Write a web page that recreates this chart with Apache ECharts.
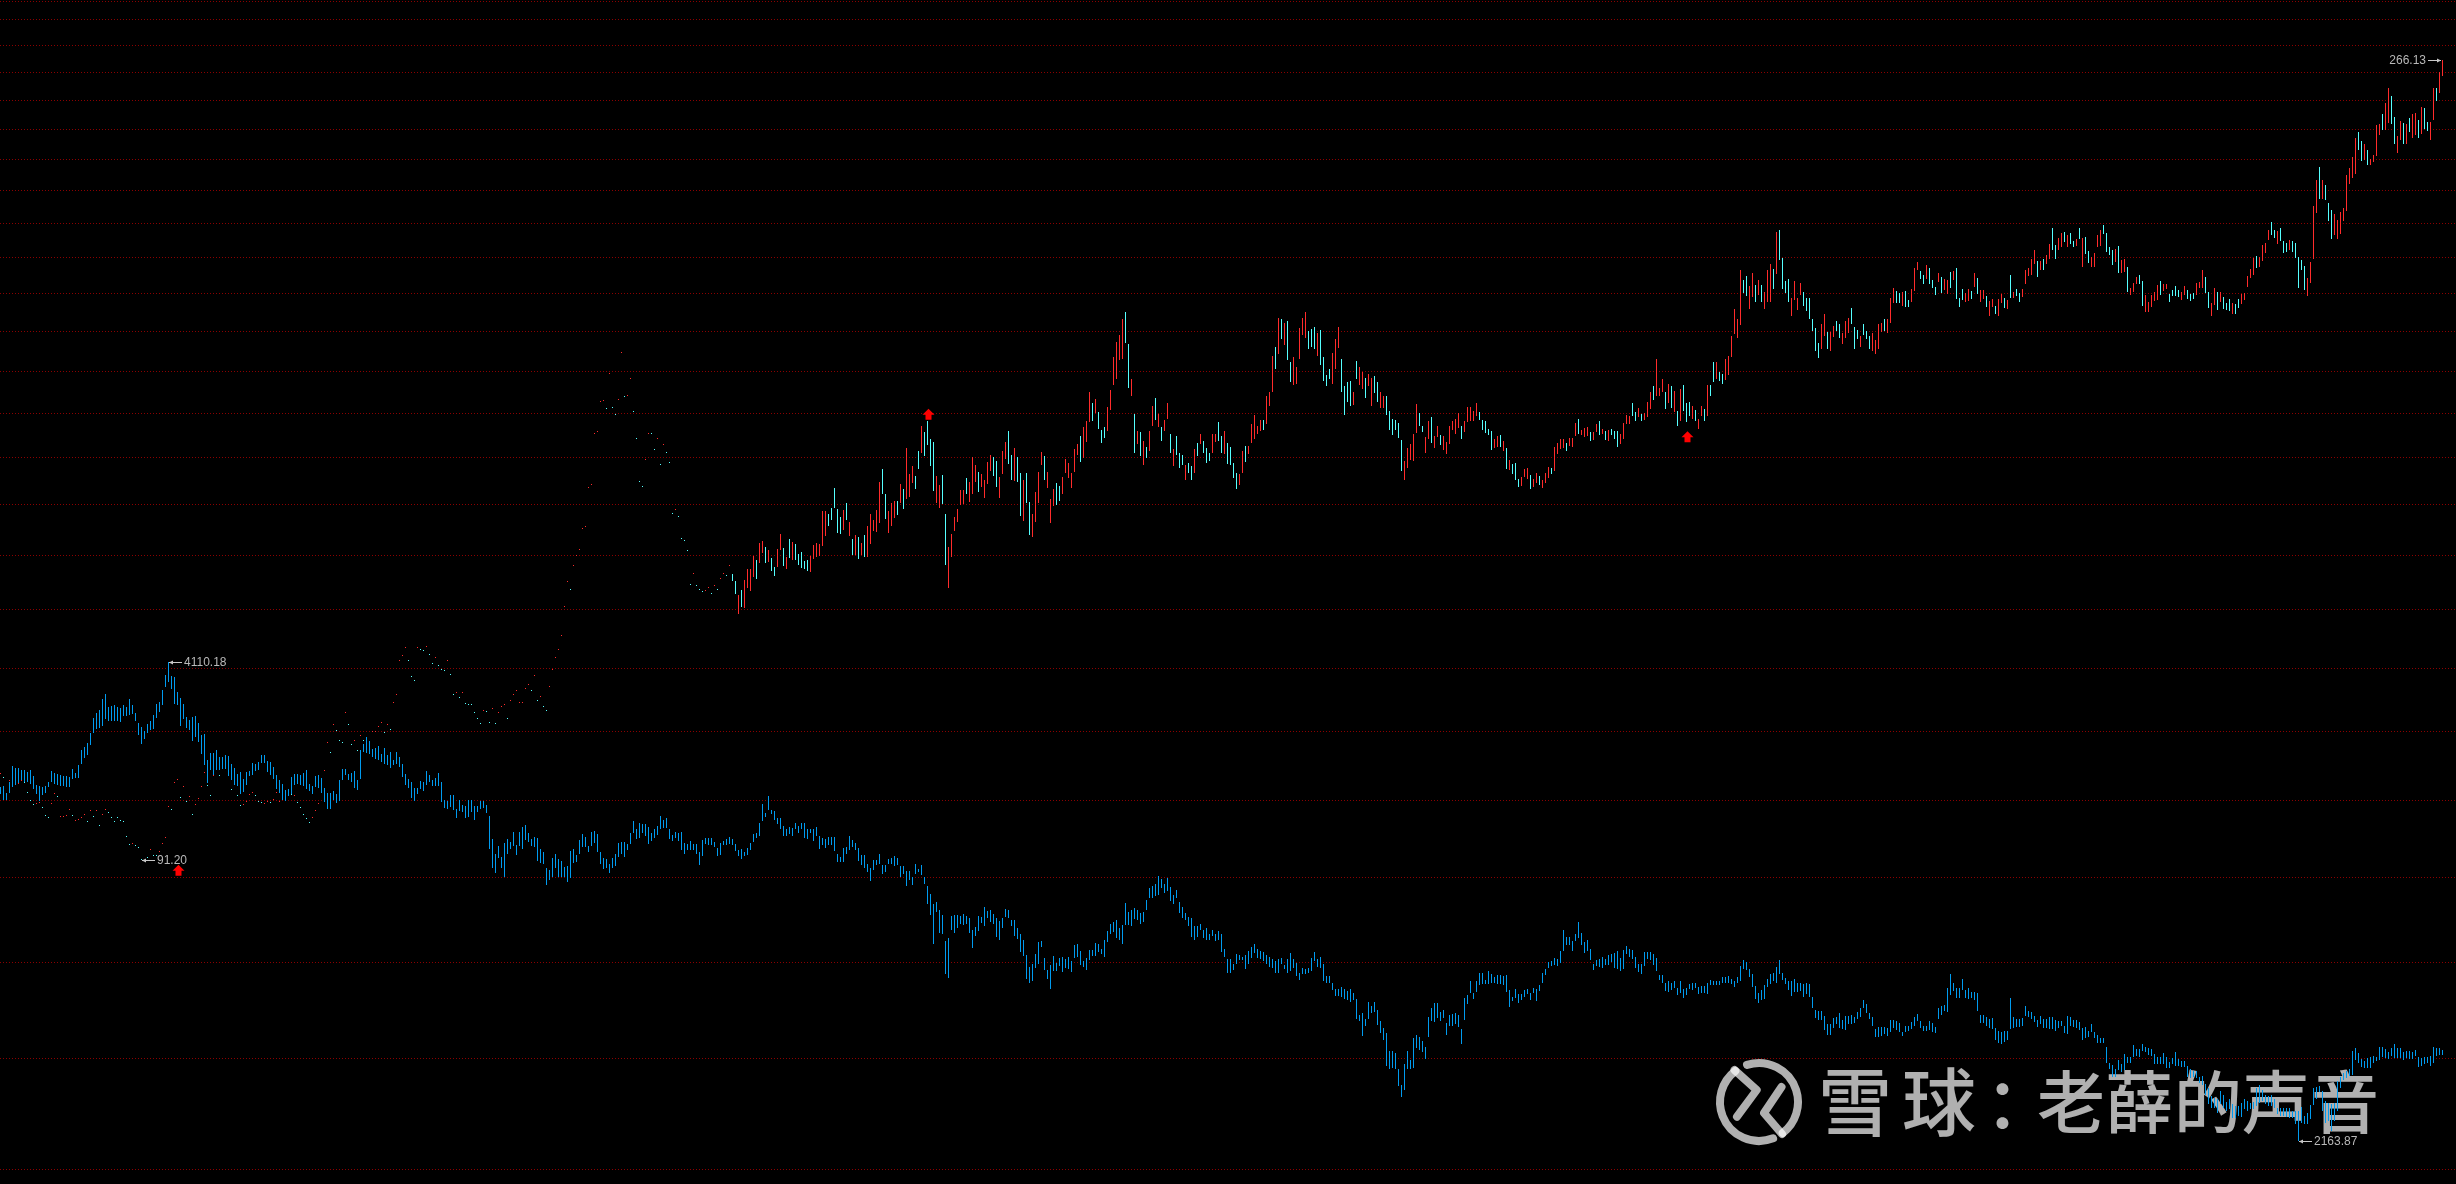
<!DOCTYPE html>
<html>
<head>
<meta charset="utf-8">
<style>html,body{margin:0;padding:0;background:#000;overflow:hidden}#c{width:2456px;height:1184px}</style>
<script src="https://cdn.jsdelivr.net/npm/echarts@6/dist/echarts.min.js"></script>
</head>
<body>
<div id="c"></div>
<script>
// Index (blue, left-hand scale): high,low pairs per session
const blueHighLow = [
3476,3443,3483,3419,3451,3419,3500,3448,3578,3479,3568,3488,3565,3496,3556,3508,3556,3500,3548,3500,
3556,3491,3528,3467,3487,3443,3483,3411,3479,3440,3483,3448,3503,3479,3552,3500,3544,3491,3540,3488,
3532,3483,3528,3480,3528,3479,3522,3479,3560,3516,3544,3519,3583,3520,3655,3588,3668,3615,3689,3631,
3740,3679,3814,3737,3840,3757,3857,3766,3913,3774,3939,3809,3873,3800,3875,3800,3882,3800,3870,3800,
3864,3795,3882,3823,3870,3826,3913,3830,3882,3835,3840,3800,3788,3727,3771,3684,3748,3708,3783,3740,
3800,3754,3830,3757,3887,3814,3899,3847,3959,3882,4042,3977,4110.18,4003,4034,3965,4029,3887,3947,3882,
3916,3774,3887,3809,3818,3766,3804,3754,3818,3700,3826,3716,3788,3692,3727,3636,3735,3580,3604,3496,
3639,3556,3639,3532,3655,3559,3620,3556,3620,3560,3631,3564,3626,3528,3585,3508,3568,3488,3540,3483,
3548,3443,3516,3455,3548,3488,3551,3528,3593,3532,3586,3552,3596,3556,3631,3593,3631,3593,3600,3548,
3596,3535,3572,3516,3532,3467,3511,3451,3491,3419,3464,3411,3467,3435,3524,3443,3540,3488,3540,3491,
3536,3488,3544,3483,3559,3467,3491,3459,3483,3443,3528,3479,3532,3475,3519,3451,3475,3407,3451,3375,
3451,3378,3459,3419,3443,3404,3511,3411,3564,3508,3560,3532,3540,3508,3544,3500,3552,3475,3508,3464,
3655,3516,3684,3644,3716,3641,3700,3636,3660,3620,3663,3612,3676,3604,3636,3596,3663,3588,3628,3580,
3644,3568,3604,3580,3644,3585,3620,3572,3588,3524,3540,3488,3516,3475,3500,3427,3475,3414,3475,3443,
3504,3467,3500,3459,3554,3487,3532,3500,3511,3483,3519,3483,3544,3480,3500,3407,3419,3382,3411,3375,
3439,3387,3439,3372,3378,3336,3419,3368,3393,3361,3390,3336,3419,3339,3419,3361,3390,3328,3390,3361,
3411,3375,3411,3382,3393,3358,3343,3200,3244,3120,3178,3098,3212,3164,3168,3120,3227,3084,3244,3178,
3229,3200,3273,3212,3218,3174,3273,3215,3295,3200,3305,3237,3270,3232,3244,3215,3251,3208,3247,3149,
3200,3142,3189,3135,3120,3049,3113,3071,3164,3084,3178,3120,3157,3084,3149,3084,3125,3084,3128,3060,
3190,3077,3200,3142,3174,3145,3237,3178,3266,3208,3251,3208,3215,3186,3273,3215,3280,3227,3266,3186,
3186,3135,3164,3116,3157,3120,3135,3101,3160,3120,3178,3130,3227,3168,
3230,3179,3230,3168,3223,3197,3271,3223,3323,3271,3289,3242,3315,3249,3311,3271,3311,3257,3296,3220,
3271,3233,3289,3249,3301,3263,3345,3289,3326,3292,3337,3293,3289,3245,3263,3233,3274,3248,3271,3233,
3274,3194,3228,3179,3223,3197,3235,3197,3223,3194,3223,3179,3187,3132,3241,3172,3249,3223,3249,3219,
3249,3219,3230,3211,3206,3172,3228,3175,3235,3219,3245,3216,3252,3223,3245,3219,3223,3190,3197,3172,
3201,3157,3187,3169,3204,3175,3226,3197,3267,3230,3271,3248,3315,3255,3399,3321,3359,3340,3434,3372,
3372,3352,3366,3328,3337,3311,3337,3286,3301,3255,3285,3257,3296,3267,3293,3255,3315,3286,3301,3271,
3315,3289,3315,3249,3285,3245,3289,3271,3289,3233,3296,3255,3257,3201,3249,3219,3245,3206,3252,3219,
3252,3219,3252,3190,3179,3143,3165,3143,3206,3146,3211,3179,3257,3194,3241,3209,3228,3194,3206,3150,
3175,3132,3175,3121,3135,3102,3121,3064,3153,3113,3153,3132,3179,3135,3132,3096,3132,3102,3157,3135,
3162,3135,3169,3128,3162,3132,3128,3081,3128,3096,3109,3045,3109,3070,3083,3051,3135,3096,3116,3102,
3131,3091,3084,3055,3047,2971,3012,2929,2974,2816,2980,2941,2950,2861,2929,2857,2830,2707,2842,2693,
2926,2870,2931,2861,2929,2877,2926,2894,2935,2890,2926,2894,2919,2861,2873,2803,2881,2847,2925,2868,
2923,2900,2962,2886,2945,2916,2950,2903,2935,2896,2916,2845,2905,2834,2919,2877,2954,2922,2950,2916,
2908,2886,2908,2848,2877,2836,2857,2789,2834,2774,2776,2690,2732,2673,2742,2681,2780,2730,2827,2745,
2830,2808,2765,2721,2721,2688,2739,2653,2772,2719,2748,2719,2765,2736,2768,2715,2761,2728,2768,2725,
2753,2715,2815,2765,2819,2771,2792,2739,2753,2732,2765,2722,2796,2757,2796,2772,2823,2772,2819,2788,
2799,2780,2834,2768,2869,2827,2896,2857,2904,2865,2908,2842,2877,2834,2892,2816,2978,2890,2943,2892,
2950,2886,2958,2913,2950,2909,2939,2896,2943,2904,2989,2950,3039,2997,3047,2997,3055,3005,3087,3009,
3074,3036,3055,3016,3078,3024,3043,2985,3009,2974,3028,2997,2981,2939,2962,2919,2939,2908,2923,2888,
2919,2846,2888,2834,2885,2846,2896,2873,2873,2842,2877,2834,2854,2834,2873,2850,2854,2830,2869,2834,
2857,2788,2799,2768,2761,2711,2761,2711,2745,2721,2780,2742,2776,2757,
2771,2757,2776,2724,2790,2742,2806,2765,2819,2783,2799,2767,2793,2761,2787,2754,2776,2742,2771,2734,
2761,2730,2754,2711,2761,2711,2767,2742,2738,2724,2761,2711,2784,2719,2761,2730,2748,2701,2709,2684,
2730,2707,2724,2707,2728,2711,2767,2719,2787,2754,2761,2734,2771,2730,2742,2682,2699,2676,2699,2673,
2676,2650,2652,2629,2653,2627,2659,2623,2652,2617,2647,2613,2652,2606,2638,2613,2617,2548,2563,2543,
2569,2490,2548,2525,2607,2548,2592,2569,2607,2572,2578,2528,2540,2500,2517,2479,2500,2392,2440,2382,
2440,2387,2434,2384,2384,2331,2334,2297,2399,2316,2441,2382,2411,2384,2485,2387,2496,2451,2489,2445,
2475,2439,2455,2417,2555,2489,2586,2540,2603,2537,2603,2552,2572,2540,2579,2552,2534,2496,2563,2526,
2565,2523,2569,2531,2561,2520,2513,2465,2621,2545,2632,2600,2683,2638,2638,2617,2683,2641,2711,2667,
2711,2669,2686,2669,2718,2669,2707,2676,2697,2673,2704,2669,2704,2669,2700,2667,2704,2644,2648,2590,
2624,2609,2652,2621,2635,2603,2635,2614,2648,2624,2652,2635,2638,2614,2655,2638,2652,2610,2666,2645,
2711,2676,2724,2704,2750,2730,2753,2736,2765,2738,2761,2736,2792,2748,2873,2792,2846,2815,2846,2815,
2830,2792,2854,2830,2904,2842,2861,2815,2827,2784,2834,2792,2799,2757,2745,2721,2757,2735,2761,2731,
2768,2728,2761,2738,2776,2738,2780,2749,2784,2728,2792,2724,2765,2718,2796,2724,2811,2780,2799,2768,
2796,2761,2768,2728,2742,2714,2742,2707,2788,2735,2788,2761,2788,2757,2780,2738,2765,2718,2704,2686,
2704,2673,2676,2645,2680,2641,2673,2648,2680,2655,2655,2631,2680,2638,2652,2621,2655,2631,2669,2652,
2676,2648,2673,2655,2659,2635,2662,2638,2662,2638,2673,2635,2686,2666,2680,2666,2683,2666,2680,2666,
2697,2673,2697,2676,2700,2676,2690,2669,2680,2659,2697,2676,2735,2683,2757,2724,2749,2721,2724,2697,
2707,2659,2662,2617,2638,2603,2648,2614,2666,2617,2690,2659,2707,2669,2711,2680,2731,2676,2757,2707,
2711,2686,2693,2669,2683,2648,2683,2628,2690,2641,2676,2641,2673,2645,2669,2624,2676,2635,2669,2624,
2624,2586,2579,2552,2576,2545,2576,2545,2558,2510,2531,2493,2531,2493,2552,2517,2555,2531,2569,2517,
2545,2513,2558,2510,2558,2531,2562,2531,2555,2534,2572,2548,
2586,2555,2615,2586,2600,2569,2569,2550,2555,2526,2514,2488,2521,2488,2521,2492,2521,2498,2517,2492,
2546,2506,2546,2517,2543,2512,2535,2503,2506,2491,2526,2503,2526,2508,2538,2515,2555,2526,2566,2540,
2543,2517,2526,2509,2526,2509,2543,2512,2535,2506,2521,2500,2586,2548,2592,2563,2598,2575,2658,2573,
2707,2633,2675,2646,2658,2621,2658,2621,2688,2650,2650,2621,2656,2618,2644,2621,2641,2615,2638,2577,
2563,2535,2561,2535,2555,2526,2550,2517,2552,2514,2517,2479,2508,2468,2506,2465,2509,2471,2509,2477,
2621,2514,2555,2517,2550,2520,2548,2520,2552,2526,2592,2558,2577,2554,2573,2550,2558,2538,2546,2521,
2558,2531,2550,2517,2550,2517,2555,2515,2555,2514,2546,2509,2543,2517,2543,2523,2526,2500,2558,2497,
2555,2526,2546,2521,2546,2517,2538,2512,2517,2479,2521,2483,2508,2488,2531,2506,2506,2483,2494,2468,
2486,2468,2486,2468,2454,2402,2404,2382,2396,2359,2384,2359,2411,2379,2399,2374,2431,2379,2423,2404,
2423,2404,2462,2422,2448,2425,2448,2422,2465,2442,2456,2437,2451,2427,2448,2425,2431,2399,2422,2399,
2423,2399,2434,2399,2423,2386,2406,2386,2419,2399,2437,2394,2416,2394,2409,2389,2409,2389,2392,2359,
2382,2354,2377,2357,2377,2354,2359,2339,2362,2334,2336,2303,2323,2273,2298,2263,2293,2263,2288,2248,
2313,2273,2303,2263,2281,2253,2288,2258,2273,2233,2268,2233,2268,2238,2278,2235,2288,2258,2283,2253,
2278,2258,2281,2258,2323,2268,2334,2278,2318,2283,2303,2273,2298,2268,2303,2268,2288,2263,2263,2243,
2263,2238,2261,2238,2261,2235,2261,2233,2253,2233,2253,2215,2253,2163.87,2265,2218,2238,2213,2248,2215,
2271,2228,2323,2271,2328,2288,2331,2311,2313,2253,2283,2218,2278,2223,2273,2193,2278,2223,2344,2253,
2359,2323,2369,2349,2376,2356,2384,2362,2442,2364,2450,2412,2434,2402,2414,2389,2409,2386,2419,2386,
2423,2386,2425,2404,2423,2409,2454,2412,2454,2423,2448,2419,2437,2416,2450,2425,2465,2419,2450,2419,
2450,2419,2437,2412,2442,2419,2442,2414,2437,2416,2445,2425,2423,2391,2419,2394,2423,2399,2423,2402,
2425,2394,2454,2404,2450,2425,2451,2427,2445,2427
];

// Stock (right-hand scale): start,end pairs per session.
// end > start is drawn red, end < start is drawn cyan. null = nothing visible that session.
const redStartEnd = [
102.3,102.4,101.8,101.7,null,null,101.4,101.5,null,null,100.9,101,101,101.1,101.3,101.4,101.2,101.1,99.9,99.8,
98.8,98.7,98.2,98.1,98.3,98.4,98.4,98.5,97.8,97.7,96.8,96.7,96.6,96.5,98.3,98.4,99.6,99.7,99.3,99.2,
96.6,96.7,96.6,96.7,96.7,96.8,97.5,97.6,96.8,96.7,96.1,96.2,96.2,96.3,96.4,96.5,96.8,96.9,96.1,96,
97.4,97.5,96.7,96.6,97.4,97.5,95.5,95.4,96.8,96.9,97.5,97.6,97.2,97.1,96.6,96.5,96.1,96,96.5,96.4,
96.2,96.1,96.1,96,94.1,94,93.1,93,93.2,93.3,93,92.9,92.7,92.6,91.3,91.2,null,null,91.5,91.4,
92.4,92.5,91.8,91.7,91.8,91.7,92.1,92.2,93.2,93.3,93.9,94,97.9,98,97.6,97.5,101.1,101.2,101.5,101.6,
99.2,99.1,100.5,100.6,98.6,98.5,99.2,99.3,97,96.9,98.2,98.3,99,99.1,100.5,100.6,102.4,102.5,100.8,100.7,
99.5,99.4,102,102.1,103,103.1,102.2,102.1,null,null,null,null,102.6,102.5,100.3,100.2,null,null,99.4,99.3,
98.1,98,98.2,98.3,98.5,98.6,99.5,99.6,99.8,99.9,99.4,99.3,98.7,98.6,98.5,98.4,98.3,98.4,98.5,98.6,
98.5,98.4,98.8,98.9,99.7,99.8,98.6,98.7,98.9,99,99.5,99.4,100.2,100.3,99.6,99.5,99.4,99.5,98.5,98.4,
97.9,97.8,97,96.9,96.4,96.3,95.9,95.8,96.5,96.6,97.4,97.5,98.3,98.4,null,null,102.7,102.8,106.6,106.7,
105.3,105.2,109.2,109.3,108.5,108.4,107.1,107,106.8,106.7,111.1,111.2,109.4,109.3,106.4,106.3,106.9,107,105.6,105.5,
107.7,107.8,107,106.9,null,null,null,null,108.3,108.4,108.3,108.4,108.9,109,109.6,109.7,108.2,108.1,109.2,109.3,
108.6,108.5,112.6,112.7,113.8,113.9,119,119.1,119.8,119.9,121.1,121.2,119.1,119,116.7,116.6,116,115.9,121.1,121.2,
120.9,120.8,120.7,120.6,121.3,121.4,120.1,120,118.6,118.5,119.5,119.6,118.3,118.2,117.8,117.7,117.6,117.5,119,119.1,
116.9,116.8,113.9,113.8,114.1,114.2,113.4,113.3,114,114.1,112.5,112.4,112.4,112.3,112.4,112.3,111.2,111.1,110.3,110.2,
109.5,109.4,111.4,111.5,111.3,111.2,109.7,109.6,111.7,111.8,109.5,109.4,111,111.1,112,112.1,112.3,112.4,110.3,110.2,
112.9,113,113.8,113.9,114.4,114.5,112.5,112.6,112.5,112.6,114.6,114.7,115.3,115.4,114.5,114.4,116.7,116.8,113,112.9,
113.4,113.5,112.1,112,111.5,111.4,115,115.1,117.7,117.8,119.5,119.6,120.8,120.9,123.1,123.2,128,128.1,132.4,132.5,
131,130.9,135.3,135.4,137,137.1,138.2,138.3,142.1,142.2,142.5,142.6,150.1,150.2,150.7,150.8,161.4,161.5,161.8,161.9,
168.4,168.5,168.6,168.7,166.9,166.8,174.8,174.9,167.1,167,165.7,165.6,168.8,168.9,180,180.1,169.6,169.5,169.9,170,
173.8,173.9,166.4,166.3,160.3,160.2,151.4,151.3,150.4,150.3,155.8,155.9,161.4,161.5,161.5,161.4,158.1,158,160.3,160.4,
154.9,154.8,159,159.1,157.4,157.3,155.3,155.2,145,144.9,145.7,145.8,144.5,144.4,140.3,140.2,140,139.9,138.1,138,
132,131.9,133.7,133.8,131.8,131.7,131.1,131,130.7,130.6,130.8,130.9,131.2,131.3,130.4,130.3,131.7,131.8,131.1,131,
132.8,132.9,133.8,133.9,133.6,133.5,135.3,135.4,
133.7,132.5,132.5,130.2,126.7,130,130.9,128,127.7,132.7,131.2,134.6,130.7,134.6,133.2,136.9,136.2,132.8,135.7,139.4,
137.5,139.8,138.6,135.7,135.9,138.1,136.6,134.3,135,133.4,135,138.3,138.1,141.1,138.4,135.2,134.6,136.7,140.1,136.6,
136.2,139.6,139.2,136.2,137.3,135.3,137.7,134.8,136,134.6,136.2,134.3,134.1,136.9,136.4,139,136.8,139.4,136.9,139.2,
138.8,145.4,140.7,145.4,144.8,142.6,146.1,143.7,150,146.1,145.8,141.3,144.3,141.1,141.8,145.6,147.1,143.7,140.7,143.3,
140.1,137.1,137.1,140.9,140.5,136.4,137.1,139.4,140.9,136.8,136.8,142.6,139.2,144.8,141.6,143.7,141.4,145.6,143.1,151.2,
153.9,148.8,148.8,143.9,141.3,145.4,142.6,147.1,144.1,147.5,147.5,144.7,147.1,150.8,149.8,145.8,147.9,158.2,148.3,152.8,
151,154.5,152.4,149.9,157.6,153.9,157.2,163,161.7,156.5,164,158.9,160.2,154.5,159.5,149.4,147.1,152.4,146,150.6,
152.6,146.9,144.8,135.3,131.2,138.6,136.8,141.1,141.6,144.3,143.3,145.8,146.7,149.6,146.9,149.6,152,148.8,147.3,151.2,
148.9,156.3,151.2,154.7,153.2,149.2,150.2,152.8,148.1,151.6,150.8,155.3,153.5,156.8,156.3,152.4,155.5,150.2,148.1,152.2,
152.8,157.6,155.9,159.5,161.9,154.9,156.8,151.6,151.4,158.2,156.3,151.2,153,144.5,143.5,151.6,153,147.1,147.3,140.9,
140.5,144.8,143.3,149.2,147.1,153.2,154.7,157.4,156.5,151.6,150,153.2,143.1,147.9,146.5,149.8,151,146.7,150.4,147.5,
148.9,152.2,153,155.9,152,155.1,150,153,153.2,158,156.8,159.1,160.8,155.3,156.1,162.7,159.5,164,163.8,170.5,
168.2,164.2,165.9,169.1,166.2,162.3,162.1,159.3,162.7,160.4,161.9,167.1,166.6,171,
172.1,178.9,173.7,182.5,178,184.2,178.4,188,189.8,182.2,182,171.6,169.8,173.7,165.7,157.2,159.1,161.9,161.7,156.5,
154.7,159.7,158.5,156.1,157.6,161.9,162.9,167.5,169.3,164.4,162.7,165.7,162.7,159.7,161.9,164.4,164.6,168,161.2,157.2,
154.5,158,160.8,156.9,157.2,154,156.8,154.7,151.6,154.7,155.1,153,154.5,151.6,153,158,159.3,156.5,159.1,161.2,
159.7,157.2,158.2,155.1,157.2,155.5,157.2,161.2,159.5,161.2,163.8,159.7,160.8,157.2,157,161.9,159.3,154.9,158.5,154.7,
155.1,152,153,149.8,150.6,152.8,153,157.6,158.7,155.3,157,158.7,159.3,163.4,160.2,165.5,161.2,163.1,161.9,164.4,
164.4,162.1,163.4,169.6,167.5,170.7,170.5,179.1,181.3,176,179.6,188.5,188.2,183.2,181.8,187.2,187.7,178,177.5,172.8,
172.1,178.7,172.5,176.5,178.2,185.9,184.2,188.5,183.4,190,185.1,180.8,185.6,181.3,186.2,180.8,179.1,184.6,185.4,177,
178.7,173.2,174.6,171.9,176,173.5,172.5,179.8,176,183.2,181,186.2,178.2,170.5,171.9,165.5,172.8,168.4,173.2,167.5,
167.7,170.7,177.9,173.5,172.3,176.5,171.2,175.3,173.9,169.3,171.9,174.8,167.5,173.9,174.4,170.3,172.8,168.4,167,170.7,
167,169.6,169.8,165.5,166.4,162.1,164.6,161,164.4,162.1,163.6,160.4,159.9,153.5,151.6,155.5,154,158.2,155.7,159.1,
155.5,161.2,161.4,167.8,165.9,163.1,163.1,161.7,157.2,160.6,160.2,164.2,164.9,159.3,158.2,160.8,160.6,162.9,161,158.9,
157.8,160.8,157,159.5,159.1,162.9,162.1,164.2,161.2,164.6,162.5,165.9,162.9,160.2,161.7,164.2,163.8,167.1,164.2,167.1,
164.2,166.4,165.1,168,166.2,164.4,164.4,162.1,164,161.4,162.3,161,161.9,157.8,158.2,160.2,158.5,160.8,161,158.5,
157.6,159.7,158.2,153.9,153.7,155.7,154.9,152.8,155.1,151.6,151.8,150.2,150.4,152.2,152.2,153.9,151.8,154,152.6,149.8,
150.2,151.8,151,153,152.4,150.6,150,151.6,151,153,152,154.3,154,152.8,153.5,158.4,157,159.3,158,160.2,
158.2,160.2,159.3,157.6,158.7,160.4,158.5,160.4,160.8,163.6,164.6,161.2,161,162.1,160.6,162.5,160.8,162.7,161.7,159.7,
159.9,161.7,161.7,163.4,164,161,161.2,162.3,161.9,159.9,159.7,162.1,162.3,161,161.9,160.2,161.9,158.5,
159.1,161.2,160.2,163.6,163.4,165.5,163.4,165.3,168.2,165.1,166.1,164,164.9,167,165.7,164,164.4,165.9,164.9,168.4,
166.8,170.7,171.9,168.7,169.8,178.4,169.6,171.6,170.5,173.5,170.7,166.8,168,172.5,171.9,167,166.1,170.9,166.4,162.9,
164,171.2,172.1,166.4,168.2,163.8,168.4,165.3,164.6,167.5,166.6,164.2,162.3,164.6,165.1,167.5,166.8,164,165.3,172.1,
172.1,169.6,177.7,172.8,173.5,177.7,175.3,173.2,174.8,172.5,173.4,178.2,174.6,179.1,178.9,183.9,184.4,190.6,183.4,188,
186.7,200.9,198.2,194.7,199.3,194,190.6,196.6,193.7,200,196.9,192.4,194.2,198.2,196.9,192.4,190.6,195,192.4,200.9,
192.4,202.5,201.1,195.8,199.8,211.5,212,203.5,204.1,195.8,197.9,194.7,198.5,192.4,188.8,193.4,192.9,197.9,190.3,193.4,
194.2,197.4,195,191.3,193.4,190.1,193.4,188,188,185.1,185.9,180.3,182.2,178.6,180.8,186.9,183.9,189.3,184.9,180.6,
180.3,184.9,183.7,186.4,187.5,185.1,186.9,183.4,182,184.6,183.4,187.7,184.6,188.5,190.8,186.9,186.2,180.8,185.4,183.2,
181.3,183.9,186.9,184.2,185.1,183.2,183.9,180.6,180.3,184.6,179.6,183,180.8,186.9,184.9,187.2,188,185.1,184.6,188,
187.2,193.4,192.1,196.1,195.3,192.1,194.7,192.1,191.3,195,195.3,191.1,192.9,191.1,192.4,195.8,195.3,201.4,200.9,203,
200.6,198.5,199.5,197.1,198.5,202.1,201.4,197.1,198.2,196.1,196.3,194.2,197.7,200,199,194.7,195.5,198.5,194.5,198.2,
200.3,196.1,198.2,200.6,201.4,193.2,193.4,191.1,195.8,192.9,192.4,194.7,192.7,195.8,195.3,193.2,196.3,200,198.7,194.5,
192.4,195.5,193.2,195.5,193.9,191.1,189,192.7,191.1,193.2,191.4,189.3,188.8,193.2,192.1,194.5,193.4,190.8,190.6,192.9,
199.5,193.4,193.4,195,195.8,194,194.7,192.4,193.7,195.8,197.1,200.9,199.3,201.4,199.5,203.8,202.4,206.3,203.3,199,
200.9,203.3,203.8,200.9,202.4,204.9,203.8,207.9,212.6,206.3,207.6,203.8,206.3,209.8,207.1,211.2,211.5,208.5,207.1,210.4,
211.2,207.9,208.7,207.1,207.4,209.3,212.6,209.3,201.7,209.8,210.1,205.2,206,202.7,201.7,204.3,201.7,205.4,207.1,210.4,
207.4,212,213.4,210.7,211.2,205.7,207.1,204.9,206.3,202.2,203,206.5,207.4,200,200,203.5,200.3,203.8,201.7,195,
194.2,196.1,195,197.4,197.1,199,199.5,197.1,197.9,191.4,189.8,194.2,189.8,192.4,191.1,194.2,192.7,195,192.9,196.9,
197.9,194.2,195.3,197.1,195.8,197.1,194.5,192.4,195.5,194,196.6,194,195.5,193.7,192.9,195,194.2,196.6,195.5,193.2,
194.5,192.7,194.7,193.2,194.2,197.4,196.1,197.7,196.1,200.9,199,194.7,195,190.8,189,192.1,191.6,196.1,195,190.3,
192.4,195,193.7,190.6,192.1,190.3,193.2,190.1,189.3,192.1,191.9,189.5,193.2,190.8,192,194.6,
193.1,194.9,196.3,199.2,198.7,201.1,199.5,204.1,204.6,201.4,201.7,204.3,203.3,207.7,205.5,208.2,209,212,214.2,210.4,
211.8,209.6,207.9,211.7,212.6,208.8,208.8,205.5,208.2,205.7,206.3,209,208.8,205.7,208.2,204.1,204.4,196,203.5,200.9,
201.9,195.5,193.9,198.7,197.4,203,203.8,218.8,216.7,226.6,230.5,220.9,220.8,226.6,225.1,220.6,219.7,214.6,217.6,209.3,
210.4,216.4,209.3,214.9,210.7,217,214.6,218.2,217.3,228.1,225.4,230.2,227.2,233.7,228.4,239.8,241.8,236,238.9,232.6,
232.9,237.9,236,231.1,231.1,233.1,232,234.4,234.1,244.1,240.8,244.4,247.7,242.4,242.4,251.4,244.5,256.5,253.7,244.2,
246.7,237.9,235,240.5,239.2,245.4,244.7,237.9,237.9,244.4,246.1,241.6,239.8,247.7,240.8,248,245.7,239.8,241,250,
249.4,242.8,245,242,239.2,245,245.5,256.5,256.5,252,254.7,262,260.6,266.13
];

// Horizontal guide levels, read on the blue scale
const gridLevels = [2084,2416,2748,3081,3413,3745,4077,4410,4742,5074,5406,5738,6071,6403,6735,7067,7399,7732,8064,8396,8728,9060,9392,9724,9966];

// Axis ends of the two log scales
const blueRange = [2043, 9981];
const redRange = [59.06, 288.4];

// Up-arrow signals on the stock: session, level
const signalSessions = [59, 309, 562];
const signalLevels = [89.9, 165.6, 160.7];

// High/low annotations
const noteSessions = [56, 766, 47, 814];
const noteLevels = [4110.18, 2163.87, 91.20, 266.13];
const noteTexts = ['4110.18', '2163.87', '91.20', '266.13'];
const noteAxis = [0, 0, 1, 1];
const noteSide = [1, 1, 1, -1];

// Watermark, one glyph group per entry
const watermarkParts = ['雪', '球', '：', '老', '薛', '的', '声', '音'];

const blueRows = [], redRows = [];
for (let k = 0; k * 2 < blueHighLow.length; k++) blueRows.push([k + 0.5, blueHighLow[2 * k], blueHighLow[2 * k + 1]]);
for (let k = 0; k * 2 < redStartEnd.length; k++) redRows.push([k + 0.5, redStartEnd[2 * k], redStartEnd[2 * k + 1]]);

const BLUE = '#009bef', RED = '#ff2b2b', CYAN = '#55ffff', MARK = 'rgba(255,255,255,0.69)';
const partLeft = [1818, 1902, 1985, 2037, 2105, 2174, 2242, 2311];
const partSize = [74, 74, 70, 68, 68, 68, 68, 68];

function barRender(colorFn) {
  return function (params, api) {
    const a = api.value(1), b = api.value(2);
    if (a == null || b == null || isNaN(a) || isNaN(b)) return null;
    const pa = api.coord([api.value(0), a]), pb = api.coord([api.value(0), b]);
    const top = Math.round(Math.min(pa[1], pb[1])), bot = Math.round(Math.max(pa[1], pb[1]));
    return {
      type: 'rect',
      shape: { x: Math.round(pa[0] - 1.5), y: top, width: 1, height: Math.max(1, bot - top) },
      style: { fill: colorFn(a, b) }
    };
  };
}

const option = {
  backgroundColor: '#000',
  animation: false,
  grid: { left: 0, top: 0, width: 2445, height: 1184, containLabel: false },
  xAxis: { type: 'value', min: 0, max: 815, show: false },
  yAxis: [
    { type: 'log', min: blueRange[0], max: blueRange[1], show: false },
    { type: 'log', min: redRange[0], max: redRange[1], show: false }
  ],
  series: [
    {
      type: 'custom', silent: true, z: 1, yAxisIndex: 0, clip: false,
      data: gridLevels.map(v => [0, v]),
      encode: { x: 0, y: 1 },
      renderItem(params, api) {
        const y = Math.floor(api.coord([0, api.value(1)])[1]) + 0.5;
        return {
          type: 'line',
          shape: { x1: 0, y1: y, x2: 2456, y2: y },
          style: { stroke: '#8c0000', lineWidth: 1, lineDash: [1, 2] }
        };
      }
    },
    {
      type: 'custom', silent: true, z: 2, yAxisIndex: 1, clip: false,
      data: redRows, encode: { x: 0, y: [1, 2] },
      renderItem: barRender((a, b) => (b > a ? RED : CYAN))
    },
    {
      type: 'custom', silent: true, z: 3, yAxisIndex: 0, clip: false,
      data: blueRows, encode: { x: 0, y: [1, 2] },
      renderItem: barRender(() => BLUE)
    },
    {
      type: 'scatter', silent: true, z: 4, yAxisIndex: 1,
      data: signalSessions.map((s, k) => [s + 0.5, signalLevels[k]]),
      symbol: 'path://M6 0L12 6L9 6L9 11L3 11L3 6L0 6Z',
      symbolSize: [12, 11],
      itemStyle: { color: '#ff0000', opacity: 1 }
    },
    ...[0, 1].map(ax => ({
      type: 'custom', silent: true, z: 5, yAxisIndex: ax, clip: false,
      data: noteSessions.map((s, k) => [s + 0.5, noteLevels[k], k]).filter(r => noteAxis[r[2]] === ax),
      encode: { x: 0, y: 1 },
      renderItem(params, api) {
        const k = api.value(2);
        const p = api.coord([api.value(0), api.value(1)]);
        const x = Math.round(p[0] - 1.5), y = Math.round(p[1]);
        const s = noteSide[k];
        const tip = x + s * 1, tail = x + s * 14;
        return {
          type: 'group',
          children: [
            { type: 'line', shape: { x1: tip, y1: y + 0.5, x2: tail, y2: y + 0.5 }, style: { stroke: '#c8c8c8', lineWidth: 1 } },
            { type: 'polygon', shape: { points: [[tip, y + 0.5], [tip + s * 4, y - 1.5], [tip + s * 4, y + 2.5]] }, style: { fill: '#c8c8c8' } },
            { type: 'text', x: tail + s * 2, y: y + 0.5,
              style: { text: noteTexts[k], fill: '#b8b8b8', font: '12px "Liberation Sans", Arial, sans-serif',
                       textAlign: s > 0 ? 'left' : 'right', textVerticalAlign: 'middle' } }
          ]
        };
      }
    }))
  ],
  graphic: [
    { type: 'group', z: 100, silent: true, children: [
      { type: 'arc', shape: { cx: 1759, cy: 1102, r: 39, startAngle: 1.2, endAngle: 4.06, clockwise: true },
        style: { fill: null, stroke: MARK, lineWidth: 8, lineCap: 'round' } },
      { type: 'polyline', shape: { points: [[1734.5, 1070], [1756.7, 1090], [1737, 1116.7]] },
        style: { fill: null, stroke: MARK, lineWidth: 8, lineCap: 'round', lineJoin: 'round' } },
      { type: 'arc', shape: { cx: 1759, cy: 1102, r: 39, startAngle: 4.4, endAngle: 7.2, clockwise: true },
        style: { fill: null, stroke: MARK, lineWidth: 8, lineCap: 'round' } },
      { type: 'polyline', shape: { points: [[1782, 1134], [1764, 1113], [1781.5, 1087]] },
        style: { fill: null, stroke: MARK, lineWidth: 8, lineCap: 'round', lineJoin: 'round' } },
      ...watermarkParts.map((t, k) => ({
        type: 'text', x: partLeft[k], y: 1102,
        style: { text: t, fill: MARK, font: '500 ' + partSize[k] + 'px "Noto Sans CJK SC"',
                 textAlign: 'left', textVerticalAlign: 'middle' }
      }))
    ] }
  ]
};

const chart = echarts.init(document.getElementById('c'), null, { renderer: 'canvas', width: 2456, height: 1184 });
chart.setOption(option);
</script>
</body>
</html>
